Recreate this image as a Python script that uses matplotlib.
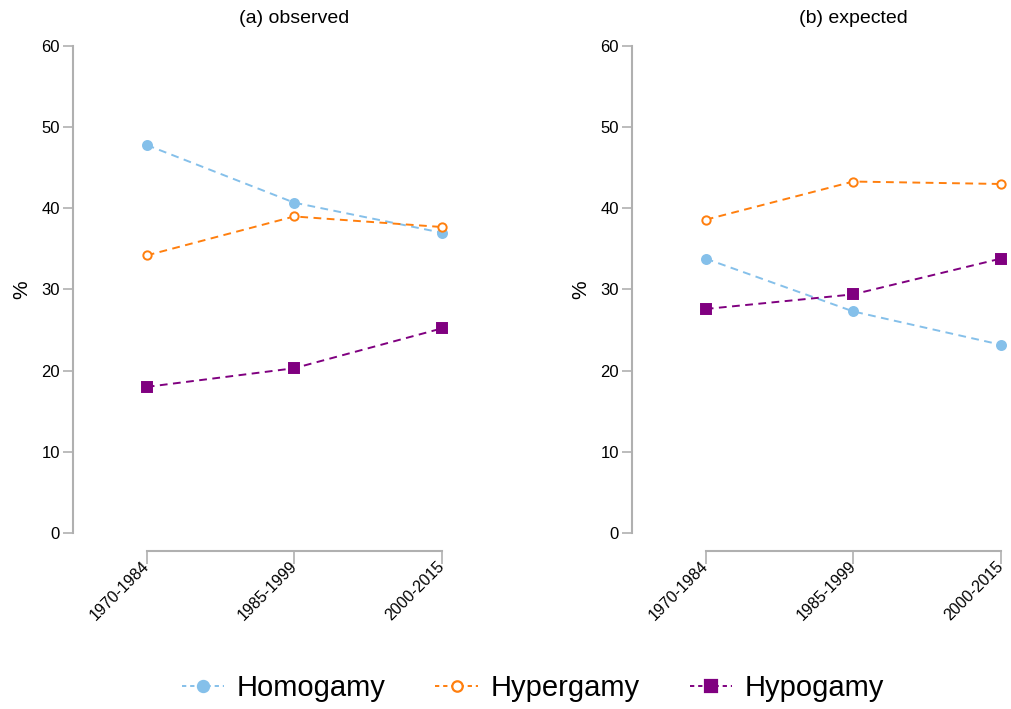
import matplotlib
matplotlib.use("Agg")
import matplotlib.pyplot as plt
from matplotlib.lines import Line2D
import matplotlib.transforms as mtransforms

plt.rcParams['font.family'] = ['Liberation Sans', 'DejaVu Sans']

periods = ["1970-1984", "1985-1999", "2000-2015"]
series = ["Homogamy", "Hypergamy", "Hypogamy"]
observed = {
    "Homogamy": [47.8, 40.7, 37.0],
    "Hypergamy": [34.2, 39.0, 37.7],
    "Hypogamy": [18.0, 20.3, 25.2],
}
expected = {
    "Homogamy": [33.8, 27.3, 23.2],
    "Hypergamy": [38.6, 43.3, 43.0],
    "Hypogamy": [27.6, 29.4, 33.8],
}
panel_titles = ["(a) observed", "(b) expected"]
yticks = [0, 10, 20, 30, 40, 50, 60]

colors = {"Homogamy": "#85c0ea", "Hypergamy": "#ff7f0e", "Hypogamy": "#800080"}
markers = {"Homogamy": "o", "Hypergamy": "o", "Hypogamy": "s"}
mfc = {"Homogamy": "#85c0ea", "Hypergamy": "white", "Hypogamy": "#800080"}
msize = {"Homogamy": 6.5, "Hypergamy": 6.0, "Hypogamy": 6.5}

W, H = 1011, 709
fig = plt.figure(figsize=(W / 100, H / 100), dpi=100)
grey = "#b0b0b0"

lefts = [73, 632]
for i, (data, title) in enumerate(zip([observed, expected], panel_titles)):
    ax = fig.add_axes([lefts[i] / W, (H - 533) / H, 376 / W, (533 - 46) / H])
    xs = list(range(len(periods)))
    for s in series:
        ax.plot(xs, data[s], linestyle=(0, (4, 2.8)), lw=1.4, color=colors[s],
                marker=markers[s], markersize=msize[s], markerfacecolor=mfc[s],
                markeredgecolor=colors[s], markeredgewidth=1.4, clip_on=False,
                dash_capstyle='butt')
    ax.set_xlim(-0.5, 2.05)
    ax.set_ylim(0, 60)
    for sp in ['top', 'right']:
        ax.spines[sp].set_visible(False)
    ax.spines['left'].set_color(grey)
    ax.spines['left'].set_linewidth(1.5)
    ax.spines['left'].set_bounds(0, 60)
    ax.spines['bottom'].set_color(grey)
    ax.spines['bottom'].set_linewidth(1.5)
    ax.spines['bottom'].set_bounds(0, 2)
    ax.spines['bottom'].set_position(('outward', 13))
    ax.set_yticks(yticks)
    ax.set_xticks(xs)
    ax.set_xticklabels(periods)
    ax.tick_params(axis='y', labelsize=12, length=7, width=1.2, color=grey, pad=2.5)
    ax.tick_params(axis='x', labelsize=11.5, length=9, width=1.2, color=grey, pad=0,
                   labelrotation=45)
    for lab in ax.get_xticklabels():
        lab.set_ha('right')
        lab.set_va('center')
        lab.set_rotation_mode('anchor')
    ax.set_ylabel("%", fontsize=15, labelpad=7)
    trans = mtransforms.blended_transform_factory(ax.transData, ax.transAxes)
    trans = trans + mtransforms.ScaledTranslation(0, 19 / 100, fig.dpi_scale_trans)
    ax.text(1, 1.0, title, transform=trans, ha='center', va='bottom', fontsize=14)

handles = [Line2D([0], [0], linestyle=(0, (2.2, 2)), lw=1.4, color=colors[s], marker=markers[s],
                  markersize=msize[s] + 1.5, markerfacecolor=mfc[s], markeredgecolor=colors[s],
                  markeredgewidth=1.6) for s in series]
fig.legend(handles, series, loc='center', bbox_to_anchor=(533 / W, 1 - 688 / H), ncol=3,
           frameon=False, fontsize=21, handlelength=1.45, columnspacing=1.7, handletextpad=0.45)

fig.savefig("out.png", dpi=100)
